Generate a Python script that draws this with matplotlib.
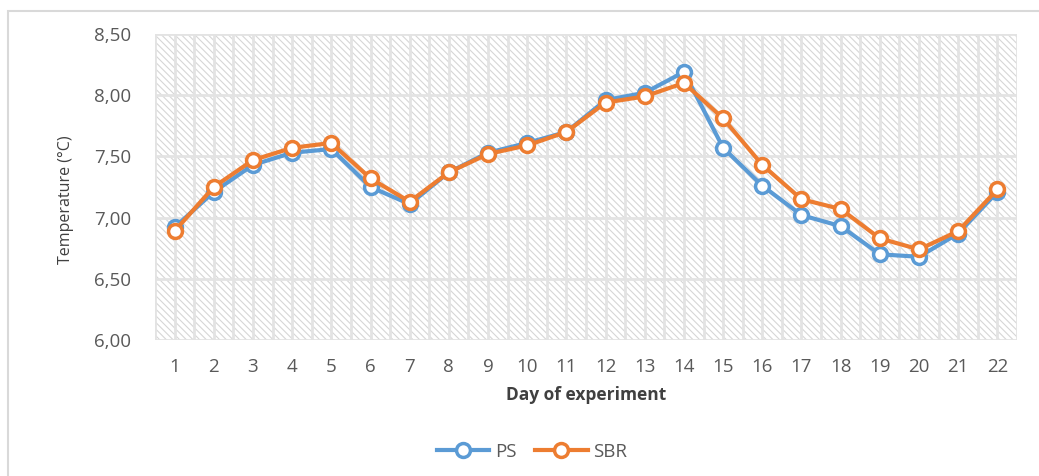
import matplotlib.pyplot as plt
from matplotlib.patches import Rectangle

days = list(range(1, 23))
ps = [6.92, 7.21, 7.43, 7.53, 7.56, 7.25, 7.11, 7.37, 7.53, 7.61, 7.70,
      7.96, 8.02, 8.19, 7.57, 7.26, 7.02, 6.93, 6.70, 6.68, 6.87, 7.21]
sbr = [6.89, 7.25, 7.47, 7.57, 7.61, 7.32, 7.13, 7.37, 7.52, 7.59, 7.70,
       7.94, 7.99, 8.10, 7.81, 7.43, 7.15, 7.07, 6.83, 6.74, 6.89, 7.23]
yticks = [6.0, 6.5, 7.0, 7.5, 8.0, 8.5]

plt.rcParams['font.family'] = ['Open Sans', 'DejaVu Sans']
plt.rcParams['hatch.linewidth'] = 0.8
plt.rcParams['hatch.color'] = '#d6d6d6'

grey = '#595959'
grid = '#e3e3e3'

fig = plt.figure(figsize=(10.39, 4.76), dpi=100)
# outer chart frame
fig.patches.append(Rectangle((8 / 1039, -0.1), 1.2, 1 - 11 / 476 + 0.1,
                             transform=fig.transFigure, fill=False,
                             edgecolor='#d9d9d9', linewidth=1.5))

ax = fig.add_axes([155 / 1039, 1 - 340 / 476, 862 / 1039, 306 / 476])
ax.add_patch(Rectangle((0, 0), 1, 1, transform=ax.transAxes, facecolor='white',
                       edgecolor='#d6d6d6', hatch='\\\\\\\\\\', linewidth=0, zorder=0))

ax.set_xlim(0.5, 22.5)
ax.set_ylim(6.0, 8.5)

for x in [d - 0.5 for d in days] + days + [22.5]:
    ax.axvline(x, color=grid, linewidth=2, zorder=1)
for y in yticks:
    ax.axhline(y, color=grid, linewidth=2, zorder=1)

ax.plot(days, ps, color='#5b9bd5', linewidth=3, marker='o', markersize=10,
        markerfacecolor='white', markeredgewidth=2.5, label='PS', zorder=3)
ax.plot(days, sbr, color='#ed7d31', linewidth=3, marker='o', markersize=10,
        markerfacecolor='white', markeredgewidth=2.5, label='SBR', zorder=4)

for s in ax.spines.values():
    s.set_visible(False)

ax.set_xticks(days)
ax.set_xticklabels([str(d) for d in days])
ax.set_yticks(yticks)
ax.set_yticklabels([f'{v:.2f}'.replace('.', ',') for v in yticks])
ax.tick_params(length=0, colors=grey, labelsize=13.5)
ax.tick_params(axis='y', pad=17)
ax.tick_params(axis='x', pad=13)

ax.set_xlabel('Day of experiment', fontsize=12.5, fontweight='bold', color='#404040', labelpad=7)
ax.set_ylabel('Temperature (°C)', fontsize=11.5, color='#404040')
ax.yaxis.set_label_coords(-0.094, 0.46)

fig.legend(loc='center', bbox_to_anchor=(532 / 1039, 1 - 452 / 476), ncol=2,
           frameon=False, fontsize=13.5, labelcolor=grey, handlelength=2.8,
           columnspacing=1.0, handletextpad=0.3)

plt.savefig('out.png')
